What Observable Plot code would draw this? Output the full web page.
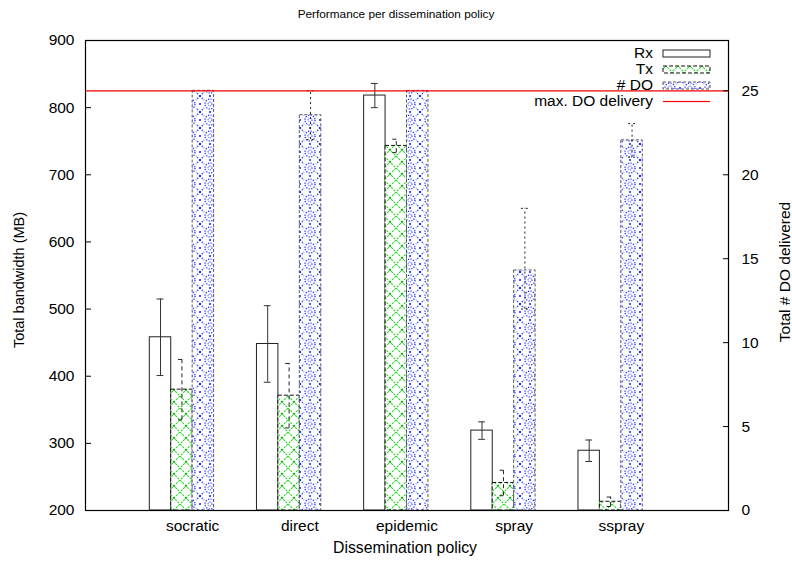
<!DOCTYPE html>
<html><head><meta charset="utf-8">
<script src="https://cdn.jsdelivr.net/npm/d3@7"></script>
<script src="https://cdn.jsdelivr.net/npm/@observablehq/plot@0.6"></script>
<style>
body{margin:0;background:#fff}
#chart svg{font-family:"Liberation Sans",Arial,Helvetica,sans-serif}
</style>
</head><body><div id="chart"></div>
<script>
// ---- data ----
const categories = ["socratic", "direct", "epidemic", "spray", "sspray"];
const rxMean = [458, 448, 818, 319, 289];          // MB
const rxErr  = [57, 57, 18, 13, 16];
const txMean = [380, 371, 743, 241, 213];          // MB
const txErr  = [45, 48, 10, 19, 7];
const doMean = [25, 23.55, 25, 14.3, 22.05];       // # DO delivered
const doLow  = [25, 22.1, 25, 12.0, 21.05];
const doHigh = [25, 25.0, 25, 18.0, 23.05];
const maxDelivery = 25;
const leftTicks = [200, 300, 400, 500, 600, 700, 800, 900];
const rightTicks = [0, 5, 10, 15, 20, 25];
const seriesNames = ["Rx", "Tx", "# DO", "max. DO delivery"];

// right axis (0..28) is aligned with left axis (200..900)
const yMin = 200, yMax = 900, rMax = 28;
const toMB = d => yMin + d * (yMax - yMin) / rMax;

const rx = categories.map((c, i) => ({i, v: rxMean[i], lo: rxMean[i] - rxErr[i], hi: rxMean[i] + rxErr[i]}));
const tx = categories.map((c, i) => ({i, v: txMean[i], lo: txMean[i] - txErr[i], hi: txMean[i] + txErr[i]}));
const dd = categories.map((c, i) => ({i, v: toMB(doMean[i]), lo: toMB(doLow[i]), hi: toMB(doHigh[i])}));

const bw = 0.2, cap = 0.032;
function barMarks(data, off, style, errStyle) {
  const cx = d => d.i + off + bw / 2;
  const withErr = data.filter(d => d.hi > d.lo);
  return [
    Plot.rect(data, {x1: d => d.i + off, x2: d => d.i + off + bw, y1: () => yMin, y2: "v", ...style}),
    Plot.ruleX(withErr, {x: cx, y1: "lo", y2: "hi", ...errStyle}),
    Plot.ruleY(withErr, {y: "hi", x1: d => cx(d) - cap, x2: d => cx(d) + cap, ...errStyle}),
    Plot.ruleY(withErr, {y: "lo", x1: d => cx(d) - cap, x2: d => cx(d) + cap, ...errStyle})
  ];
}

const chart = Plot.plot({
  width: 792, height: 562,
  marginLeft: 85, marginRight: 64, marginTop: 40, marginBottom: 52,
  style: {fontSize: "15.5px", color: "#000", background: "#fff", fontFamily: "'Liberation Sans', Arial, sans-serif"},
  x: {domain: [-1, 5]},
  y: {domain: [yMin, yMax]},
  marks: [
    ...barMarks(rx, -0.4, {fill: "white", stroke: "#222", strokeWidth: 1},
                {stroke: "#333", strokeWidth: 1}),
    ...barMarks(tx, -0.2, {fill: "url(#txHatch)", stroke: "#111", strokeWidth: 1, strokeDasharray: "4,2"},
                {stroke: "#222", strokeWidth: 1, strokeDasharray: "4,3"}),
    ...barMarks(dd, 0, {fill: "url(#doDots)", stroke: "#556", strokeWidth: 1, strokeDasharray: "3,2"},
                {stroke: "#222", strokeWidth: 1, strokeDasharray: "2,3"}),
    Plot.ruleY([toMB(maxDelivery)], {stroke: "#ff0000", strokeWidth: 1.1}),
    Plot.frame({stroke: "#000", strokeWidth: 1.2}),
    Plot.axisY({anchor: "left", ticks: leftTicks, tickSize: -6, tickPadding: 17, label: null}),
    Plot.axisY({anchor: "right", ticks: rightTicks.map(toMB), tickFormat: v => Math.round((v - yMin) * rMax / (yMax - yMin)), tickSize: -6, tickPadding: 19, label: null}),
    Plot.axisX({ticks: categories.map((c, i) => i), tickFormat: i => categories[i], tickSize: 0, tickPadding: 9, label: null})
  ]
});
document.getElementById("chart").appendChild(chart);

// ---- patterns, title, axis labels, legend ----
const svg = d3.select(chart);
const defs = svg.insert("defs", ":first-child");
const ph = defs.append("pattern").attr("id", "txHatch").attr("patternUnits", "userSpaceOnUse")
  .attr("width", 12).attr("height", 12);
ph.append("rect").attr("width", 12).attr("height", 12).attr("fill", "white");
ph.append("path").attr("d", "M0,0L12,12M12,0L0,12").attr("stroke", "#22dd22").attr("stroke-width", 1.1)
  .attr("stroke-dasharray", "2.2,1.2").attr("fill", "none");
ph.append("rect").attr("x", 5.2).attr("y", 5.2).attr("width", 1.6).attr("height", 1.6).attr("fill", "#119911");

const blue = "#1a2cff";
const pd = defs.append("pattern").attr("id", "doDots").attr("patternUnits", "userSpaceOnUse")
  .attr("width", 20).attr("height", 16);
pd.append("rect").attr("width", 20).attr("height", 16).attr("fill", "white");
pd.append("circle").attr("cx", 10).attr("cy", 8).attr("r", 5).attr("fill", "none").attr("stroke", blue)
  .attr("stroke-width", 1.2).attr("stroke-dasharray", "1.3,1.3");
pd.append("circle").attr("cx", 10).attr("cy", 8).attr("r", 2).attr("fill", "none").attr("stroke", blue)
  .attr("stroke-width", 1).attr("stroke-dasharray", "1,1");
pd.append("path").attr("d", "M0,0L4,4M20,0L16,4M0,16L4,12M20,16L16,12").attr("stroke", blue)
  .attr("stroke-width", 1.2).attr("stroke-dasharray", "1.3,1.3").attr("fill", "none");
const dots = [[0,0],[20,0],[0,16],[20,16],[10,0],[10,16],[0,8],[20,8]];
dots.forEach(([x, y]) => pd.append("rect").attr("x", x - 0.9).attr("y", y - 0.9).attr("width", 1.8).attr("height", 1.8).attr("fill", blue));

const font = "'Liberation Sans', Arial, sans-serif";
svg.append("text").attr("x", 396).attr("y", 15).attr("text-anchor", "middle").attr("dominant-baseline", "middle")
  .style("font-size", "11.8px").style("font-family", font).text("Performance per dissemination policy");
svg.append("text").attr("transform", "translate(20,280) rotate(-90)").attr("text-anchor", "middle")
  .attr("dominant-baseline", "middle").style("font-size", "14.5px").style("font-family", font).text("Total bandwidth (MB)");
svg.append("text").attr("transform", "translate(786,272) rotate(-90)").attr("text-anchor", "middle")
  .attr("dominant-baseline", "middle").style("font-size", "15.5px").style("font-family", font).text("Total # DO delivered");
svg.append("text").attr("x", 405).attr("y", 549).attr("text-anchor", "middle").attr("dominant-baseline", "middle")
  .style("font-size", "15.8px").style("font-family", font).text("Dissemination policy");

const lg = svg.append("g").style("font-family", font).style("font-size", "15.5px");
const rows = [53.5, 69.5, 85.5, 101.5];
const sx1 = 663, sx2 = 710;
seriesNames.forEach((name, k) => {
  lg.append("text").attr("x", 653).attr("y", rows[k]).attr("text-anchor", "end").attr("dominant-baseline", "middle").text(name);
});
lg.append("rect").attr("x", sx1).attr("y", rows[0] - 3.5).attr("width", sx2 - sx1).attr("height", 7).attr("fill", "white").attr("stroke", "#222");
lg.append("rect").attr("x", sx1).attr("y", rows[1] - 3.5).attr("width", sx2 - sx1).attr("height", 7).attr("fill", "url(#txHatch)").attr("stroke", "#111").attr("stroke-dasharray", "4,2");
lg.append("rect").attr("x", sx1).attr("y", rows[2] - 3.5).attr("width", sx2 - sx1).attr("height", 7).attr("fill", "url(#doDots)").attr("stroke", "#556").attr("stroke-dasharray", "3,2");
lg.append("rect").attr("x", sx1).attr("y", rows[3] - 0.6).attr("width", sx2 - sx1).attr("height", 1.2).style("fill", "#ff0000").style("stroke", "none");
</script>
</body></html>
